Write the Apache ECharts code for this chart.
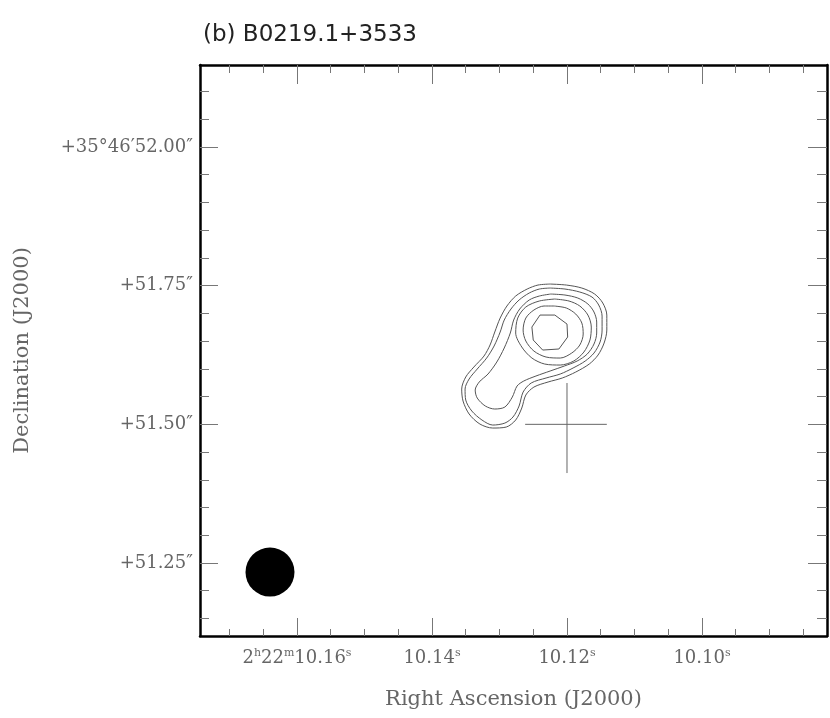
<!DOCTYPE html>
<html>
<head>
<meta charset="utf-8">
<script src="https://cdn.jsdelivr.net/npm/echarts@6/dist/echarts.min.js"></script>
<style>
  html, body { margin: 0; padding: 0; background: #fff; }
  #chart { width: 830px; height: 718px; }
</style>
</head>
<body>
<div id="chart"></div>
<script>
// axis extents: RA seconds (of 2h22m) and Dec arcsec (of +35°46')
const raRange = [10.08148, 10.17437];
const decRange = [51.1184, 52.1478];

const raMajor = [10.16, 10.14, 10.12, 10.10];
const raLabels = ['2h22m10.16s', '10.14s', '10.12s', '10.10s'];
const raMinor = [10.17, 10.165, 10.155, 10.15, 10.145, 10.135, 10.13, 10.125,
  10.115, 10.11, 10.105, 10.095, 10.09, 10.085];

const decMajor = [52.00, 51.75, 51.50, 51.25];
const decLabels = ['+35°46′52.00″', '+51.75″', '+51.50″', '+51.25″'];
const decMinor = [52.10, 52.05, 51.95, 51.90, 51.85, 51.80, 51.70, 51.65,
  51.60, 51.55, 51.45, 51.40, 51.35, 51.30, 51.20, 51.15];

// contours [RA s, Dec arcsec], outermost first
const contour1 = [
  [10.1225, 51.7529], [10.1201, 51.7511], [10.1178, 51.7457], [10.1159, 51.7349],
  [10.1147, 51.7187], [10.1141, 51.6970], [10.1141, 51.6700], [10.1145, 51.6466],
  [10.1154, 51.6249], [10.1167, 51.6087], [10.1187, 51.5943], [10.1207, 51.5835],
  [10.1228, 51.5763], [10.1249, 51.5672], [10.1261, 51.5528], [10.1267, 51.5294],
  [10.1276, 51.5078], [10.1290, 51.4951], [10.1310, 51.4933], [10.1329, 51.5005],
  [10.1345, 51.5186], [10.1354, 51.5420], [10.1356, 51.5636], [10.1350, 51.5853],
  [10.1338, 51.6033], [10.1323, 51.6231], [10.1314, 51.6430], [10.1307, 51.6664],
  [10.1299, 51.6916], [10.1289, 51.7133], [10.1276, 51.7313], [10.1259, 51.7439],
  [10.1243, 51.7511], [10.1225, 51.7529]
];
const contour2 = [
  [10.1225, 51.7457], [10.1203, 51.7439], [10.1181, 51.7385], [10.1163, 51.7295],
  [10.1153, 51.7151], [10.1148, 51.6952], [10.1148, 51.6700], [10.1151, 51.6484],
  [10.1160, 51.6285], [10.1173, 51.6141], [10.1191, 51.6015], [10.1210, 51.5907],
  [10.1231, 51.5835], [10.1253, 51.5745], [10.1265, 51.5582], [10.1271, 51.5330],
  [10.1280, 51.5132], [10.1292, 51.5023], [10.1310, 51.4987], [10.1326, 51.5078],
  [10.1341, 51.5240], [10.1350, 51.5438], [10.1351, 51.5636], [10.1345, 51.5817],
  [10.1333, 51.5997], [10.1319, 51.6195], [10.1308, 51.6412], [10.1299, 51.6664],
  [10.1293, 51.6880], [10.1283, 51.7079], [10.1271, 51.7241], [10.1256, 51.7367],
  [10.1241, 51.7439], [10.1225, 51.7457]
];
const contour3 = [
  [10.1224, 51.7349], [10.1203, 51.7331], [10.1184, 51.7277], [10.1169, 51.7169],
  [10.1160, 51.7025], [10.1156, 51.6844], [10.1156, 51.6646], [10.1160, 51.6448],
  [10.1170, 51.6267], [10.1185, 51.6141], [10.1204, 51.6051], [10.1225, 51.5961],
  [10.1246, 51.5871], [10.1264, 51.5781], [10.1274, 51.5690], [10.1281, 51.5492],
  [10.1292, 51.5312], [10.1307, 51.5276], [10.1321, 51.5330], [10.1333, 51.5474],
  [10.1336, 51.5618], [10.1330, 51.5763], [10.1317, 51.5907], [10.1304, 51.6123],
  [10.1293, 51.6376], [10.1284, 51.6646], [10.1279, 51.6880], [10.1270, 51.7079],
  [10.1256, 51.7241], [10.1241, 51.7313], [10.1224, 51.7349]
];
const contour4 = [
  [10.1218, 51.7259], [10.1197, 51.7223], [10.1181, 51.7133], [10.1169, 51.6970],
  [10.1164, 51.6754], [10.1166, 51.6520], [10.1175, 51.6303], [10.1190, 51.6141],
  [10.1210, 51.6069], [10.1233, 51.6087], [10.1252, 51.6195], [10.1267, 51.6394],
  [10.1276, 51.6646], [10.1273, 51.6916], [10.1261, 51.7115], [10.1241, 51.7223],
  [10.1218, 51.7259]
];
const contour5 = [
  [10.1219, 51.7133], [10.1201, 51.7097], [10.1187, 51.6988], [10.1178, 51.6826],
  [10.1176, 51.6628], [10.1181, 51.6430], [10.1193, 51.6285], [10.1210, 51.6195],
  [10.1231, 51.6213], [10.1249, 51.6321], [10.1261, 51.6502], [10.1265, 51.6700],
  [10.1261, 51.6916], [10.1249, 51.7061], [10.1234, 51.7133], [10.1219, 51.7133]
];
const contour6 = [
  [10.1240, 51.6970], [10.1218, 51.6970], [10.1200, 51.6808], [10.1199, 51.6574],
  [10.1212, 51.6358], [10.1236, 51.6339], [10.1250, 51.6520], [10.1252, 51.6754],
  [10.1240, 51.6970]
];

// position cross and restoring beam
const crossH = [[10.1262, 51.50], [10.1141, 51.50]];
const crossV = [[10.1200, 51.5745], [10.1200, 51.4122]];
const beam = [[10.1640, 51.2337]];

const chart = echarts.init(document.getElementById('chart'));

const labelFont = 'DejaVu Serif';
const tickColor = '#777';

function xAxisDef(pos, ticks, len, main, withLabels) {
  return {
    type: 'value', position: pos, inverse: true,
    min: raRange[0], max: raRange[1],
    axisLine: { show: main, lineStyle: { color: '#000', width: 2.5 } },
    axisTick: { show: true, inside: true, length: len, customValues: ticks,
      lineStyle: { color: tickColor, width: 1 } },
    axisLabel: withLabels ? {
      show: true, customValues: ticks, margin: 12,
      fontFamily: labelFont, fontSize: 18, color: '#666',
      formatter: (v) => {
        const i = raMajor.findIndex(t => Math.abs(t - v) < 1e-6);
        if (i < 0) return '';
        return raLabels[i].replace(/[hms]/g, c => '{u|' + c + '}');
      },
      rich: { u: { fontFamily: labelFont, fontSize: 11, color: '#666', padding: [0, 0, 9, 0] } }
    } : { show: false },
    splitLine: { show: false },
    name: withLabels ? 'Right Ascension (J2000)' : '',
    nameLocation: 'middle', nameGap: 53,
    nameTextStyle: { fontFamily: labelFont, fontSize: 21, color: '#666' }
  };
}

function yAxisDef(pos, ticks, len, main, withLabels) {
  return {
    type: 'value', position: pos,
    min: decRange[0], max: decRange[1],
    axisLine: { show: main, lineStyle: { color: '#000', width: 2.5 } },
    axisTick: { show: true, inside: true, length: len, customValues: ticks,
      lineStyle: { color: tickColor, width: 1 } },
    axisLabel: withLabels ? {
      show: true, customValues: ticks, margin: 7,
      fontFamily: labelFont, fontSize: 18, color: '#666',
      formatter: (v) => {
        const i = decMajor.findIndex(t => Math.abs(t - v) < 1e-6);
        return i < 0 ? '' : decLabels[i];
      }
    } : { show: false },
    splitLine: { show: false },
    name: withLabels ? 'Declination (J2000)' : '',
    nameLocation: 'middle', nameGap: 167, nameRotate: 90,
    nameTextStyle: { fontFamily: labelFont, fontSize: 21, color: '#666' }
  };
}

function contourSeries(data, smooth) {
  return {
    type: 'line', xAxisIndex: 0, yAxisIndex: 0, data: data,
    showSymbol: false, smooth: smooth, silent: true,
    lineStyle: { color: '#555', width: 1 }
  };
}

const option = {
  backgroundColor: '#fff',
  animation: false,
  title: {
    text: '(b) B0219.1+3533', left: 198, top: 19,
    textStyle: { fontFamily: 'DejaVu Sans', fontSize: 23, fontWeight: 'normal', color: '#222' }
  },
  grid: { left: 200, right: 3, top: 65, bottom: 82, outerBoundsMode: 'none' },
  xAxis: [
    xAxisDef('bottom', raMajor, 18, true, true),
    xAxisDef('bottom', raMinor, 7, false, false),
    xAxisDef('top', raMajor, 19, true, false),
    xAxisDef('top', raMinor, 8, false, false)
  ],
  yAxis: [
    yAxisDef('left', decMajor, 18, true, true),
    yAxisDef('left', decMinor, 9, false, false),
    yAxisDef('right', decMajor, 19, true, false),
    yAxisDef('right', decMinor, 10, false, false)
  ],
  series: [
    contourSeries(contour1, 0.3),
    contourSeries(contour2, 0.3),
    contourSeries(contour3, 0.3),
    contourSeries(contour4, 0.3),
    contourSeries(contour5, 0.3),
    contourSeries(contour6, false),
    {
      type: 'line', data: crossH, showSymbol: false, silent: true,
      lineStyle: { color: '#666', width: 1 }
    },
    {
      type: 'line', data: crossV, showSymbol: false, silent: true,
      lineStyle: { color: '#666', width: 1 }
    },
    {
      type: 'scatter', data: beam, symbol: 'circle', symbolSize: 49, silent: true,
      itemStyle: { color: '#000', opacity: 1 }
    }
  ]
};

chart.setOption(option);
</script>
</body>
</html>
